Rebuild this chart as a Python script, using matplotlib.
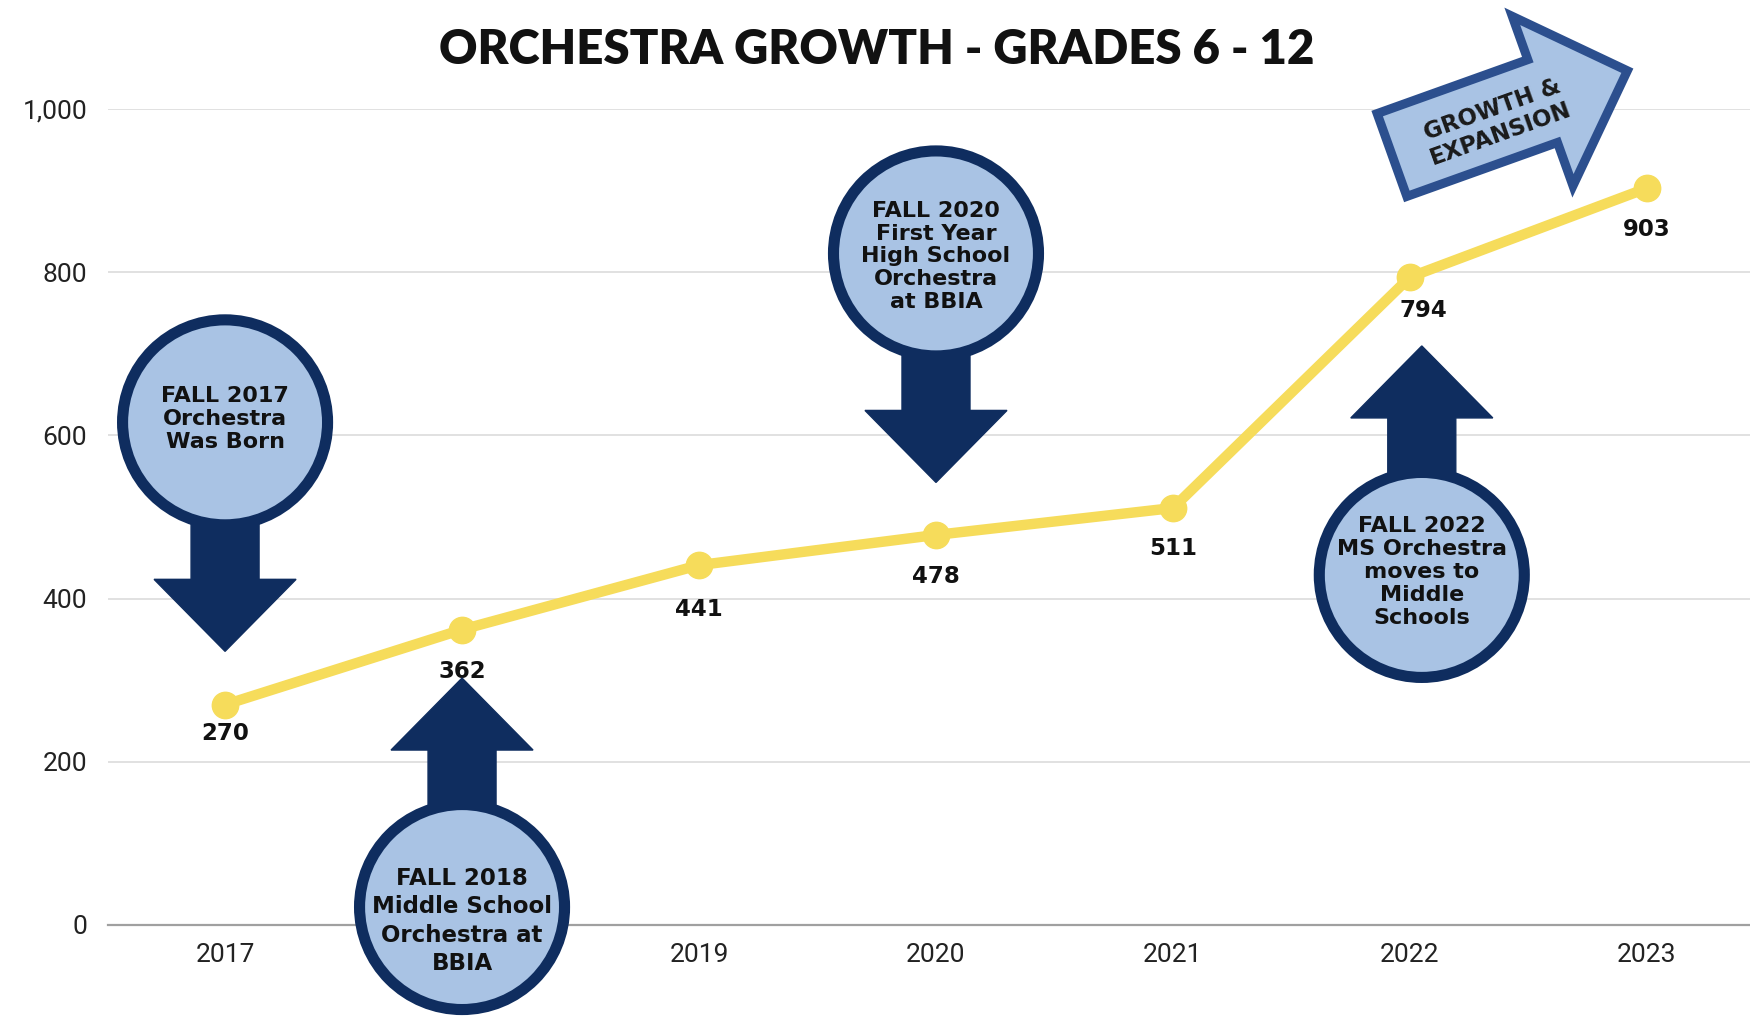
import matplotlib
matplotlib.use("Agg")
import matplotlib.pyplot as plt
from matplotlib.patches import Ellipse, Polygon
from matplotlib.ticker import FuncFormatter
import numpy as np

# ---------------- data ----------------
years = ["2017", "2018", "2019", "2020", "2021", "2022", "2023"]
enrollment = [270, 362, 441, 478, 511, 794, 903]
y_ticks = [0, 200, 400, 600, 800, 1000]
title = "ORCHESTRA GROWTH - GRADES 6 - 12"

# milestone bubbles: (category index, text)
milestone_idx = [0, 1, 3, 5]
milestone_text = [
    "FALL 2017\nOrchestra\nWas Born",
    "FALL 2018\nMiddle School\nOrchestra at\nBBIA",
    "FALL 2020\nFirst Year\nHigh School\nOrchestra\nat BBIA",
    "FALL 2022\nMS Orchestra\nmoves to\nMiddle\nSchools",
]
growth_text = "GROWTH &\nEXPANSION"

# ---------------- style / layout ----------------
W, H, DPI = 1750, 1018, 100
NAVY = "#0f2d5f"
LIGHT = "#a9c3e4"
YELLOW = "#f6dc5b"
ARROW_EDGE = "#2c4f8e"
FONT = "DejaVu Sans"

fig = plt.figure(figsize=(W / DPI, H / DPI), dpi=DPI, facecolor="white")
ax_left_px, ax_top_px, ax_bot_px = 108, 109, 925
ax = fig.add_axes([ax_left_px / W, (H - ax_bot_px) / H, 1 - ax_left_px / W,
                   (ax_bot_px - ax_top_px) / H])
x = np.arange(len(years))
ax.set_xlim(-0.494, 6.435)
ax.set_ylim(0, 1000)

# pixel -> data conversion factors
ppx = (W - ax_left_px) / (6.435 + 0.494)
ppy = (ax_bot_px - ax_top_px) / 1000.0

for s in ["top", "right", "left"]:
    ax.spines[s].set_visible(False)
ax.spines["bottom"].set_color("#a0a0a0")
ax.spines["bottom"].set_linewidth(1.6)
ax.set_yticks(y_ticks)
ax.yaxis.set_major_formatter(FuncFormatter(lambda v, p: f"{int(v):,}"))
ax.set_xticks(x)
ax.set_xticklabels(years)
ax.tick_params(axis="both", length=0, labelsize=19, labelcolor="#222222")
ax.tick_params(axis="y", pad=15)
ax.tick_params(axis="x", pad=13)
for lab in ax.get_xticklabels() + ax.get_yticklabels():
    lab.set_family("Roboto")
# the 2018 label is hidden behind the milestone bubble in the original
ax.get_xticklabels()[1].set_visible(False)
ax.grid(axis="y", color="#dedede", linewidth=1.3)
ax.grid(axis="x", visible=False)
ax.set_axisbelow(True)

# ---------------- line ----------------
ax.plot(x, enrollment, color=YELLOW, linewidth=7.5, marker="o", markersize=19,
        zorder=6, clip_on=False, solid_capstyle="round")
label_dx = [0, 0, 0, 0, 0, 10, 0]
label_dy = [-21, -30, -32, -30, -29, -24, -30]
for i, v in enumerate(enrollment):
    ax.annotate(str(v), (x[i], v), xytext=(label_dx[i], label_dy[i]),
                textcoords="offset points", ha="center", va="center",
                fontsize=16.5, fontweight="bold", family=FONT, color="#111111",
                zorder=7)

# ---------------- milestone bubbles ----------------
bubble_y = [616, 22, 823, 429]           # centre heights in data units
bubble_dx = [0.0, 0.0, 0.0, 0.05]
arrow_dir = [-1, 1, -1, 1]
text_dy_px = [3, -14, -3, 3]
text_size = [16, 16.5, 16, 16]
text_ls = [1.18, 1.3, 1.18, 1.18]
R_PX = 102.5
for k, idx in enumerate(milestone_idx):
    cx = x[idx] + bubble_dx[k]
    cy = bubble_y[k]
    d = arrow_dir[k]
    pts_px = [(-34, 0), (-34, 157), (-71, 157), (0, 229), (71, 157), (34, 157), (34, 0)]
    verts = [(cx + px / ppx, cy + d * py / ppy) for px, py in pts_px]
    ax.add_patch(Polygon(verts, closed=True, facecolor=NAVY, edgecolor=NAVY,
                         linewidth=1, zorder=8, clip_on=False))
    ax.add_patch(Ellipse((cx, cy), 2 * R_PX / ppx, 2 * R_PX / ppy,
                         facecolor=LIGHT, edgecolor=NAVY, linewidth=8,
                         zorder=9, clip_on=False))
    ax.text(cx, cy + text_dy_px[k] / ppy, milestone_text[k], ha="center",
            va="center", fontsize=text_size[k], fontweight="bold", family=FONT,
            color="#111111", linespacing=text_ls[k], zorder=10, clip_on=False)

# ---------------- growth arrow ----------------
ang = np.deg2rad(19.7)
u = np.array([np.cos(ang), np.sin(ang)])   # along (pixel space, y up)
n = np.array([-np.sin(ang), np.cos(ang)])  # normal
tail_px = np.array([1392.0, H - 155.0])   # figure pixel coords (y up)
L, L_shaft, hw_tail, hw_head = 250, 160, 44, 90
shape = [(0, -hw_tail), (L_shaft, -hw_tail), (L_shaft, -hw_head), (L, 0),
         (L_shaft, hw_head), (L_shaft, hw_tail), (0, hw_tail)]


def fig_px_to_data(p):
    xd = -0.494 + (p[0] - ax_left_px) / ppx
    yd = (p[1] - (H - ax_bot_px)) / ppy
    return (xd, yd)


verts = [fig_px_to_data(tail_px + a * u + b * n) for a, b in shape]
ax.add_patch(Polygon(verts, closed=True, facecolor=LIGHT, edgecolor=ARROW_EDGE,
                     linewidth=6.5, joinstyle="miter", zorder=8, clip_on=False))
tc = fig_px_to_data(tail_px + 110 * u - 4 * n)
ax.text(tc[0], tc[1], growth_text, rotation=19.7, rotation_mode="anchor",
        ha="center", va="center", fontsize=16.5, fontweight="bold", family=FONT,
        color="#1a1a1a", linespacing=1.1, zorder=10, clip_on=False)

# ---------------- title ----------------
fig.text(0.501, 1 - 50 / H, title, ha="center", va="center", fontsize=34,
         fontweight="heavy", family="Lato", color="#111111")

fig.savefig("out.png", dpi=DPI, facecolor="white")
